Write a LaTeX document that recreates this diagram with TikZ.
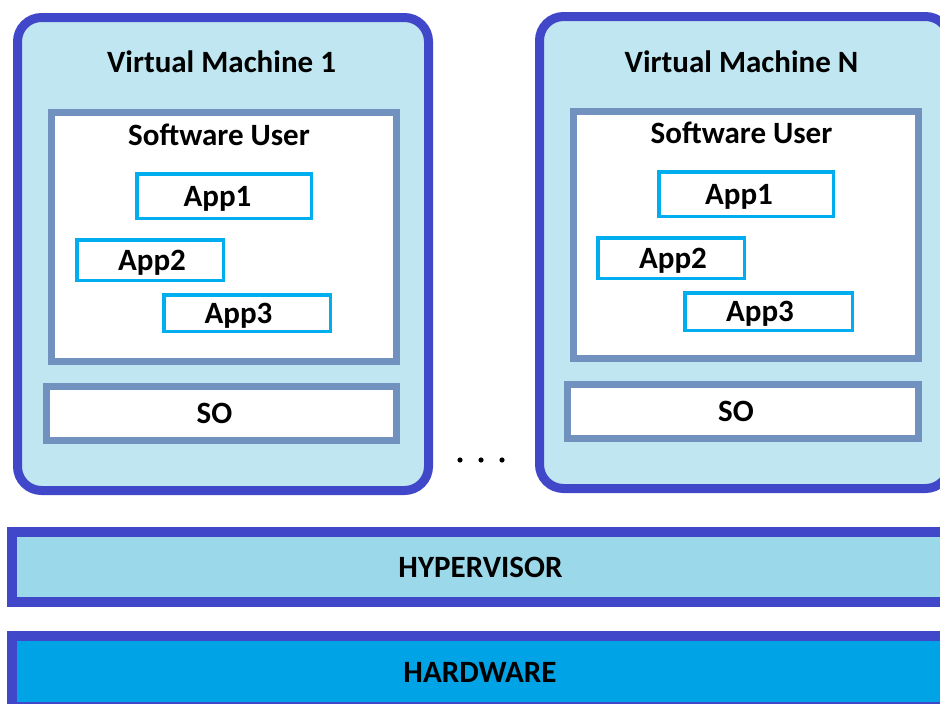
\documentclass[tikz,border=0pt]{standalone}
\usepackage{fontspec}
\setmainfont{Carlito}
\definecolor{vmborder}{HTML}{4147C9}
\definecolor{vmfill}{HTML}{C0E7F1}
\definecolor{layerborder}{HTML}{7192BE}
\definecolor{appborder}{HTML}{00AEEF}
\definecolor{hyperfill}{HTML}{9BD8E9}
\definecolor{hwfill}{HTML}{00A3E5}
\tikzset{
  lbl/.style={font=\fontsize{31}{36}\selectfont\bfseries, inner sep=0pt},
  vmbox/.style={draw=vmborder, fill=vmfill, line width=9pt, rounded corners=24pt,
    rectangle, inner sep=0pt},
  userbox/.style={draw=layerborder, fill=white, line width=7pt, rectangle, inner sep=0pt},
  sobox/.style={userbox, lbl, text height=20pt, text depth=0pt},
  appbox/.style={draw=appborder, fill=white, line width=3.5pt, rectangle,
    lbl, text height=20pt, text depth=0pt},
  bar/.style={draw=vmborder, line width=10pt},
}
\begin{document}
\begin{tikzpicture}[x=1pt,y=-1pt]
\useasboundingbox (0,0) rectangle (940,704);
\clip (0,0) rectangle (940,704);

% virtual machine frames
\node[vmbox, minimum width=411pt, minimum height=473pt] (vm1) at (223,254) {};
\node[vmbox, minimum width=410pt, minimum height=472pt] (vmn) at (744.5,252.5) {};

% machine titles
\node[lbl, anchor=base] (vm1title) at (221.5,72) {Virtual Machine 1};
\node[lbl, anchor=base] (vmntitle) at (741.5,72) {Virtual Machine N};

% user software layers
\node[userbox, minimum width=345pt, minimum height=249pt] (su1) at (224,237) {};
\node[userbox, minimum width=345pt, minimum height=247pt] (sun) at (746,235) {};
\node[lbl, anchor=base] (su1title) at (219,145) {Software User};
\node[lbl, anchor=base] (suntitle) at (741.5,143) {Software User};

% applications (labels sit a little off the box centre)
\node[appbox, minimum width=174.5pt, minimum height=44.5pt] (a11) at (224,196) {App1\kern13pt};
\node[appbox, minimum width=146.5pt, minimum height=40.5pt] (a12) at (150,260) {\kern4pt App2};
\node[appbox, minimum width=166.5pt, minimum height=36.5pt] (a13) at (247,313) {App3\kern17pt};
\node[appbox, minimum width=174.5pt, minimum height=44.5pt] (an1) at (746,194) {App1\kern14pt};
\node[appbox, minimum width=146.5pt, minimum height=40.5pt] (an2) at (671,258) {\kern4pt App2};
\node[appbox, minimum width=167.5pt, minimum height=37.5pt] (an3) at (768.5,311.5) {App3\kern17pt};

% operating systems
\node[sobox, minimum width=350pt, minimum height=54pt] (so1) at (221.5,413.5) {SO\kern14pt};
\node[sobox, minimum width=351pt, minimum height=54pt] (son) at (743,411.5) {SO\kern14pt};

% ellipsis between machines
\foreach \x/\n in {460/d1,481/d2,502/d3}
  \fill (\x,460) circle (2.6pt) coordinate (\n);

% hypervisor and hardware bars
\draw[bar, fill=hyperfill] (12,532) rectangle (960,602);
\node[lbl, anchor=base] (hyper) at (480.5,577) {HYPERVISOR};
\draw[bar, fill=hwfill] (12,636) rectangle (960,707);
\node[lbl, anchor=base] (hw) at (480,682) {HARDWARE};
\end{tikzpicture}
\end{document}
